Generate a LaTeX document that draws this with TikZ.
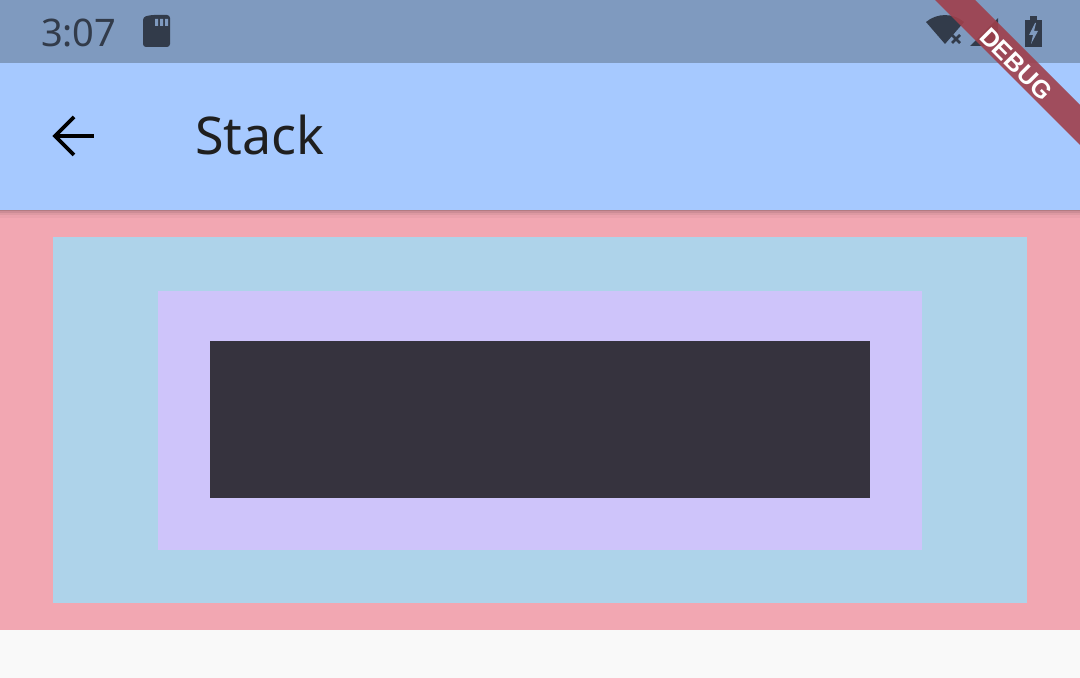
\documentclass[tikz,border=0pt]{standalone}
\usepackage{fontspec}
\setmainfont{Noto Sans}
\newfontfamily\bannerfont{Liberation Sans Bold}
\definecolor{statusbar}{HTML}{7F9ABF}
\definecolor{appbar}{HTML}{A6C9FF}
\definecolor{pinkbg}{HTML}{F2A7B2}
\definecolor{lblue}{HTML}{AED3EA}
\definecolor{lav}{HTML}{CEC4FA}
\definecolor{darkbox}{HTML}{36333E}
\definecolor{pagebg}{HTML}{F9F9F9}
\definecolor{icon}{HTML}{323B4A}
\definecolor{banner}{HTML}{A0404C}
\begin{document}
\begin{tikzpicture}[x=0.5pt,y=-0.5pt]
\useasboundingbox (0,0) rectangle (1080,678);
\fill[pagebg] (0,0) rectangle (1080,678);
\fill[pinkbg] (0,210) rectangle (1080,630);
\fill[lblue] (53,237) rectangle (1027,603);
\fill[lav] (158,291) rectangle (922,550);
\fill[darkbox] (210,341) rectangle (870,498);
% appbar shadow
\foreach \i/\o in {1/0.12,3/0.08,5/0.05,8/0.03}{\fill[black,opacity=\o] (0,210) rectangle (1080,210+\i);}
\fill[appbar] (0,63) rectangle (1080,210);
\fill[statusbar] (0,0) rectangle (1080,63);
\node[text=icon,font=\fontsize{19}{20}\selectfont,anchor=west] (time) at (34,33) {3:07};
% sd card
\fill[icon,rounded corners=1.5] (143,17) -- (143,47) -- (170,47) -- (170,15) -- (151,15) -- cycle;
\fill[statusbar] (155,19) rectangle (158,26) (160,19) rectangle (163,26) (165,19) rectangle (168,26);
% wifi
\fill[icon] (945,44) -- (926,22) arc[start angle=-130,end angle=-50,radius=29.6] -- cycle;
\draw[icon,line width=1.3] (952,35) -- (960,43) (960,35) -- (952,43);
% signal
\fill[icon] (970,46) -- (998,46) -- (998,18) -- cycle;
% battery
\fill[icon] (1025,20) rectangle (1042,47);
\fill[icon] (1030,16) rectangle (1037,20);
\fill[statusbar] (1035,23) -- (1029,35) -- (1033,35) -- (1031,44) -- (1038,31) -- (1034,31) -- (1036,23) -- cycle;
% title
\draw[black,line width=1.8] (55,136) -- (94,136);
\draw[black,line width=1.8,line join=miter] (74,117) -- (55,136) -- (74,155);
\node[text=black!88,font=\fontsize{26}{27}\selectfont,anchor=base west] (title) at (188,155) {Stack};
% debug banner
\fill[banner,opacity=0.9] (935,0) -- (975,0) -- (1080,105) -- (1080,145) -- cycle;
\node[text=white,font=\bannerfont\fontsize{12.5}{13}\selectfont,rotate=-45,inner sep=0pt] (dbg) at (1016,64) {DEBUG};
\end{tikzpicture}
\end{document}
